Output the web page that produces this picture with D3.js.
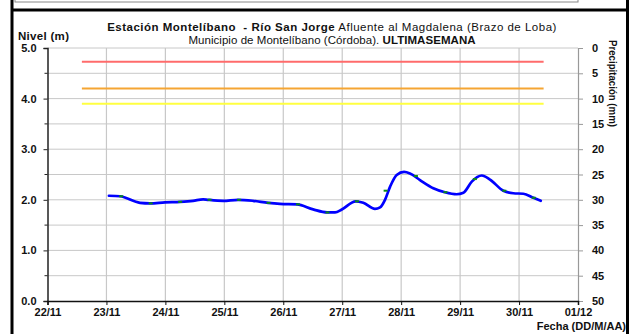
<!DOCTYPE html>
<html>
<head>
<meta charset="utf-8">
<script src="https://cdn.jsdelivr.net/npm/d3@7"></script>
<style>
  html, body { margin: 0; padding: 0; background: #fff; }
  svg { display: block; }
  text { font-family: "Liberation Sans", Arial, sans-serif; }
</style>
</head>
<body>
<svg id="chart" width="630" height="334"></svg>
<script>
// Nivel del río (m), serie continua
const levelTimes = ["23/11 01:00","23/11 05:30","23/11 13:40","23/11 17:45","23/11 23:50",
  "24/11 06:00","24/11 11:15","24/11 15:20","24/11 17:20","24/11 23:30",
  "25/11 05:35","25/11 11:40","25/11 17:50","25/11 22:40","26/11 05:35",
  "26/11 12:10","26/11 17:50","26/11 21:05","26/11 23:50","27/11 05:30",
  "27/11 08:35","27/11 13:20","27/11 15:25","27/11 17:25","27/11 19:30",
  "27/11 22:10","28/11 01:10","28/11 03:35","28/11 07:40","28/11 13:05",
  "28/11 17:50","28/11 22:35","29/11 01:20","29/11 04:45","29/11 08:50",
  "29/11 12:10","29/11 17:35","29/11 21:40","30/11 01:45","30/11 05:50","30/11 08:50"];
const levelValues = [2.08,2.07,1.94,1.93,1.95,
  1.96,1.98,2.01,2.00,1.98,
  2.00,1.98,1.94,1.92,1.91,
  1.81,1.75,1.75,1.81,1.97,
  1.94,1.82,1.85,2.00,2.26,
  2.49,2.55,2.52,2.39,2.23,
  2.15,2.11,2.14,2.36,2.48,
  2.40,2.18,2.13,2.12,2.04,1.98];

// Lecturas de mira (m)
const readingTimes = ["23/11 06:00","23/11 18:00","24/11 06:00","24/11 18:00","25/11 06:00",
  "25/11 18:00","26/11 06:00","26/11 18:00","27/11 06:00","27/11 17:40",
  "28/11 06:00","28/11 18:00","29/11 06:00","29/11 18:00","30/11 06:00"];
const readingValues = [2.07,1.93,1.96,2.00,2.00,
  1.94,1.91,1.75,1.97,2.18,
  2.47,2.15,2.41,2.18,2.04];

// Niveles de alerta (m)
const alertNames = ["roja","naranja","amarilla"];
const alertValues = [4.73,4.20,3.90];
const alertColors = ["#ff6b6b","#f5a533","#ffff40"];
const alertStart = "22/11 14:00";
const alertEnd = "30/11 10:00";

// Ejes
const dayTicks = ["22/11","23/11","24/11","25/11","26/11","27/11","28/11","29/11","30/11","01/12"];
const levelTicks = [0,0.5,1,1.5,2,2.5,3,3.5,4,4.5,5];
const rainTicks = [0,5,10,15,20,25,30,35,40,45,50];

const parseT = d3.timeParse("%d/%m %H:%M");
const parseD = d3.timeParse("%d/%m");
const svg = d3.select("#chart");

const L = 47.5, R = 578, T = 48, B = 301;
const x = d3.scaleTime().domain([parseD("22/11"), parseD("01/12")]).range([L, R]);
const y = d3.scaleLinear().domain([0, 5]).range([B, T]);
const y2 = d3.scaleLinear().domain([0, 50]).range([T, B]);

// marco de la figura
svg.append("rect").attr("x", 15).attr("y", -10).attr("width", 563).attr("height", 12)
  .attr("fill", "none").attr("stroke", "#888").attr("stroke-width", 1);
svg.append("line").attr("x1", 12).attr("x2", 12).attr("y1", 0).attr("y2", 334)
  .attr("stroke", "#000").attr("stroke-width", 3);
svg.append("line").attr("x1", 627.5).attr("x2", 627.5).attr("y1", 0).attr("y2", 334)
  .attr("stroke", "#000").attr("stroke-width", 3);
svg.append("line").attr("x1", 11).attr("x2", 629).attr("y1", 10).attr("y2", 10)
  .attr("stroke", "#000").attr("stroke-width", 3);

// rejilla
const grid = svg.append("g");
grid.selectAll("line.h").data(levelTicks.slice(1)).join("line")
  .attr("x1", L).attr("x2", R).attr("y1", d => y(d)).attr("y2", d => y(d))
  .attr("stroke", "#c8c8c8").attr("stroke-width", 1);
grid.selectAll("line.v").data(dayTicks.slice(1, -1)).join("line")
  .attr("x1", d => x(parseD(d))).attr("x2", d => x(parseD(d)))
  .attr("y1", T).attr("y2", B)
  .attr("stroke", "#c8c8c8").attr("stroke-width", 1.2);

// eje derecho (precipitación)
const axR = svg.append("g").attr("transform", `translate(${R},0)`)
  .call(d3.axisRight(y2).tickValues(rainTicks).tickSize(5).tickPadding(9).tickFormat(d3.format("d")));
axR.select(".domain").attr("stroke", "#999").attr("stroke-width", 1.2);
axR.selectAll(".tick line").attr("stroke", "#999");
axR.selectAll("text").attr("font-size", 11).attr("font-weight", "bold").attr("fill", "#111")
  .attr("font-family", "Liberation Sans, Arial, sans-serif");

// niveles de alerta
svg.append("g").selectAll("line").data(alertValues).join("line")
  .attr("x1", x(parseT(alertStart))).attr("x2", x(parseT(alertEnd)))
  .attr("y1", d => y(d)).attr("y2", d => y(d))
  .attr("stroke", (d, i) => alertColors[i]).attr("stroke-width", 2);

// serie de nivel
const levelData = levelTimes.map((t, i) => ({ t: parseT(t), v: levelValues[i] }));
svg.append("path").datum(levelData)
  .attr("d", d3.line().x(d => x(d.t)).y(d => y(d.v)).curve(d3.curveMonotoneX))
  .attr("fill", "none").attr("stroke", "#0000ff").attr("stroke-width", 2.7)
  .attr("stroke-linejoin", "round").attr("stroke-linecap", "round");

// lecturas
svg.append("g").selectAll("rect").data(readingTimes).join("rect")
  .attr("x", d => x(parseT(d)) - 2).attr("y", (d, i) => y(readingValues[i]) - 1)
  .attr("width", 4).attr("height", 2).attr("fill", "#0a8a1a");

// eje izquierdo y eje inferior
const axL = svg.append("g").attr("transform", `translate(${L},0)`)
  .call(d3.axisLeft(y).tickValues([0,1,2,3,4,5]).tickSize(4).tickPadding(7).tickFormat(d3.format(".1f")));
axL.selectAll(".tick line").attr("stroke", "#222");
axL.select(".domain").attr("stroke", "#222").attr("stroke-width", 1.5);
axL.selectAll("text").attr("font-size", 11).attr("font-weight", "bold").attr("fill", "#111")
  .attr("font-family", "Liberation Sans, Arial, sans-serif");
axL.append("g").selectAll("line").data(levelTicks.filter(d => d % 1 !== 0)).join("line")
  .attr("x1", -3).attr("x2", 0).attr("y1", d => y(d)).attr("y2", d => y(d)).attr("stroke", "#222");

const axB = svg.append("g").attr("transform", `translate(0,${B})`)
  .call(d3.axisBottom(x).tickValues(dayTicks.map(parseD)).tickSize(4).tickPadding(3)
    .tickFormat(d3.timeFormat("%d/%m")));
axB.select(".domain").attr("stroke", "#111").attr("stroke-width", 1.5);
axB.selectAll(".tick line").attr("stroke", "#111");
axB.selectAll("text").attr("font-size", 11).attr("font-weight", "bold").attr("fill", "#111")
  .attr("font-family", "Liberation Sans, Arial, sans-serif");

// títulos
const title = svg.append("text").attr("x", 332).attr("y", 31).attr("text-anchor", "middle")
  .attr("font-size", 11.5).attr("letter-spacing", 0.5).attr("fill", "#111");
title.append("tspan").attr("font-weight", "bold").text("Estación Montelíbano \u00a0- Río San Jorge");
title.append("tspan").text(" Afluente al Magdalena (Brazo de Loba)");
const title2 = svg.append("text").attr("x", 332).attr("y", 44).attr("text-anchor", "middle")
  .attr("font-size", 11.5).attr("letter-spacing", 0.05).attr("fill", "#111");
title2.append("tspan").text("Municipio de Montelíbano (Córdoba). ");
title2.append("tspan").attr("font-weight", "bold").text("ULTIMASEMANA");

svg.append("text").attr("x", 18).attr("y", 40).attr("font-size", 11.5).attr("font-weight", "bold")
  .attr("letter-spacing", 0.3).attr("fill", "#111").text("Nivel (m)");
svg.append("text").attr("x", 626).attr("y", 330).attr("text-anchor", "end").attr("font-size", 11)
  .attr("font-weight", "bold").attr("fill", "#111").text("Fecha (DD/M/AA)");
svg.append("text").attr("transform", "translate(609,40) rotate(90)")
  .attr("font-size", 10.5).attr("font-weight", "bold").attr("fill", "#111")
  .attr("textLength", 87).attr("lengthAdjust", "spacingAndGlyphs").text("Precipitación (mm)");
</script>
</body>
</html>
